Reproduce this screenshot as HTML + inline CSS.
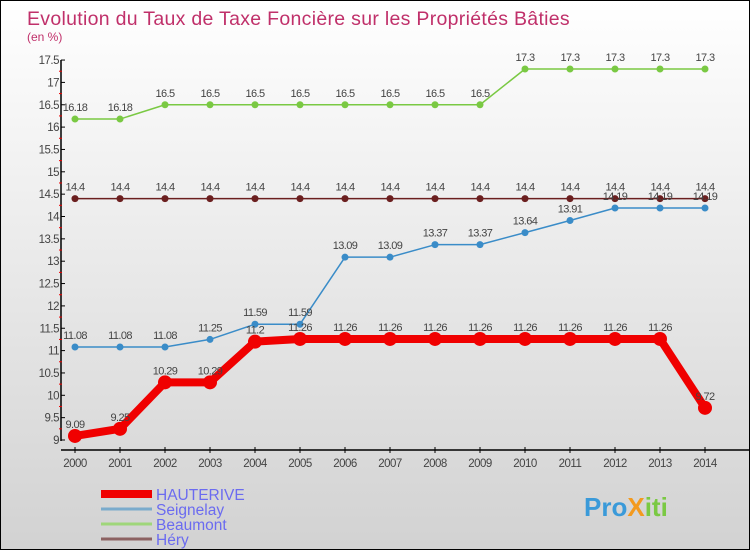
<!DOCTYPE html>
<html><head><meta charset="utf-8"><style>
body{margin:0}
#c{width:748px;height:548px;border:1px solid #000;background:linear-gradient(#fff,#d2d2d2);position:relative;font-family:"Liberation Sans",sans-serif;overflow:hidden}
</style></head><body>
<div id="c">
<svg id="s" width="748" height="548" xmlns="http://www.w3.org/2000/svg"></svg>
</div>
<script>
const years=[2000,2001,2002,2003,2004,2005,2006,2007,2008,2009,2010,2011,2012,2013,2014];
const hauterive=[9.09,9.25,10.29,10.29,11.2,11.26,11.26,11.26,11.26,11.26,11.26,11.26,11.26,11.26,9.72];
const seignelay=[11.08,11.08,11.08,11.25,11.59,11.59,13.09,13.09,13.37,13.37,13.64,13.91,14.19,14.19,14.19];
const beaumont=[16.18,16.18,16.5,16.5,16.5,16.5,16.5,16.5,16.5,16.5,17.3,17.3,17.3,17.3,17.3];
const hery=[14.4,14.4,14.4,14.4,14.4,14.4,14.4,14.4,14.4,14.4,14.4,14.4,14.4,14.4,14.4];
const yTicks=[9,9.5,10,10.5,11,11.5,12,12.5,13,13.5,14,14.5,15,15.5,16,16.5,17,17.5];
const ns="http://www.w3.org/2000/svg",s=document.getElementById('s');
const X=i=>74+45*i, Y=v=>439-(v-9)*44.7;
function el(t,a,txt){const e=document.createElementNS(ns,t);for(const k in a)e.setAttribute(k,a[k]);if(txt!==undefined)e.textContent=txt;s.appendChild(e);return e;}
let e;
e=el('text',{x:26,y:24,'font-size':19.5,fill:'#c0306a','letter-spacing':'0.3'},'Evolution du Taux de Taxe Foncière sur les Propriétés Bâties');

e=el('text',{x:26,y:40,'font-size':12,fill:'#c0306a'},'(en %)');

e=el('line',{x1:60,y1:59,x2:60,y2:440,stroke:'#000','stroke-width':1.5});

e=el('line',{x1:60,y1:449,x2:748,y2:449,stroke:'#000','stroke-width':1.5});

yTicks.forEach((v,i)=>{
 e=el('line',{x1:60,y1:Y(v),x2:64,y2:Y(v),stroke:'#000'});
 
 if(i<yTicks.length-1){e=el('line',{x1:58,y1:Y(v+0.25),x2:61,y2:Y(v+0.25),stroke:'#e00'});
 }
 e=el('text',{x:58,y:Y(v)+4,'font-size':11.5,fill:'#444','text-anchor':'end','letter-spacing':'-0.5'},String(v));
 
});
years.forEach((y,i)=>{
 e=el('line',{x1:X(i),y1:446,x2:X(i),y2:452,stroke:'#000'});
 
 e=el('text',{x:X(i),y:466,'font-size':11.5,fill:'#444','text-anchor':'middle','letter-spacing':'-0.5'},String(y));
 
});
function series(d,col,w,r,name){
 e=el('polyline',{points:d.map((v,i)=>X(i)+','+Y(v)).join(' '),fill:'none',stroke:col,'stroke-width':w,'stroke-linejoin':'round'});
 
 d.forEach((v,i)=>{
  e=el('circle',{cx:X(i),cy:Y(v),r:r,fill:col});
  
  e=el('text',{x:X(i),y:Y(v)-8,'font-size':11,fill:'#444','text-anchor':'middle','letter-spacing':'-0.6'},String(v));
  
 });
}
series(beaumont,'#7ac943',1.5,3.5,'beaumont');
series(hery,'#6b1f1f',1.5,3.5,'hery');
series(seignelay,'#3a8cc8',1.5,3.5,'seignelay');
series(hauterive,'#f00000',8,7,'hauterive');
const leg=[['HAUTERIVE','#f00000',8],['Seignelay','#7aabcc',3],['Beaumont','#9fd67a',3],['Héry','#8c6262',3]];
leg.forEach((l,i)=>{
 const y=493+i*15;
 e=el('line',{x1:100,y1:y,x2:151,y2:y,stroke:l[1],'stroke-width':l[2]});
 
 e=el('text',{x:155,y:y+6,'font-size':15.5,fill:'#6b6bf0'},l[0]);
 
});
e=el('text',{x:583,y:515,'font-size':26,'font-weight':'bold',fill:'#3a9ad9'});

[['Pro','#3a9ad9'],['X','#f39a1e'],['iti','#7ac943']].forEach(p=>{const t=document.createElementNS(ns,'tspan');t.setAttribute('fill',p[1]);t.textContent=p[0];e.appendChild(t);});
</script>
</body></html>
